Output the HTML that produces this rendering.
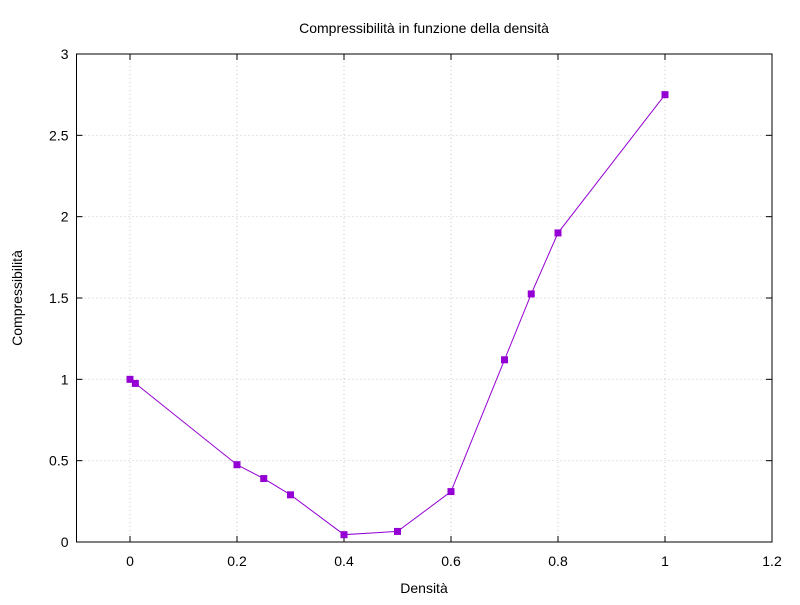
<!DOCTYPE html>
<html><head><meta charset="utf-8"><style>
body{margin:0;background:#fff;}
svg{font-family:"Liberation Sans",sans-serif;}
</style></head><body>
<svg id="chart" width="800" height="600">
<text x="424" y="33" font-size="14" text-anchor="middle">Compressibilità in funzione della densità</text>
<text x="424" y="593" font-size="14" text-anchor="middle">Densità</text>
<text transform="translate(22,298) rotate(-90)" font-size="14" text-anchor="middle">Compressibilità</text>
<g id="grid"></g><g id="axes"></g><g id="series"></g>
</svg>
<script>
const xVals=[0,0.01,0.2,0.25,0.3,0.4,0.5,0.6,0.7,0.75,0.8,1];
const yVals=[1.0,0.975,0.475,0.39,0.29,0.045,0.065,0.31,1.12,1.525,1.9,2.75];
const xTicks=[0,0.2,0.4,0.6,0.8,1,1.2];
const yTicks=[0,0.5,1,1.5,2,2.5,3];
const L=76.5,R=772,T=54,B=542;
const xMin=-0.1,xMax=1.2,yMin=0,yMax=3;
const sx=v=>L+(v-xMin)/(xMax-xMin)*(R-L);
const sy=v=>B-(v-yMin)/(yMax-yMin)*(B-T);
const NS="http://www.w3.org/2000/svg";
function mk(tag,attrs,parent){const e=document.createElementNS(NS,tag);for(const k in attrs)e.setAttribute(k,attrs[k]);parent.appendChild(e);return e;}
const grid=document.getElementById('grid'),axes=document.getElementById('axes'),ser=document.getElementById('series');
xTicks.forEach(t=>{const x=sx(t);
 let g=mk('line',{x1:x,x2:x,y1:T,y2:B,stroke:'#c8c8c8','stroke-dasharray':'1,3'},grid);
 
 
 mk('line',{x1:x,x2:x,y1:B,y2:B-6,stroke:'#000'},axes);
 mk('line',{x1:x,x2:x,y1:T,y2:T+6,stroke:'#000'},axes);
 let tx=mk('text',{x:x,y:B+24,'font-size':14,'text-anchor':'middle'},axes);tx.textContent=t;
 
 
});
yTicks.forEach(t=>{const y=sy(t);
 let g=mk('line',{x1:L,x2:R,y1:y,y2:y,stroke:'#c8c8c8','stroke-dasharray':'1,3'},grid);
 
 
 mk('line',{x1:L,x2:L+6,y1:y,y2:y,stroke:'#000'},axes);
 mk('line',{x1:R,x2:R-6,y1:y,y2:y,stroke:'#000'},axes);
 let tx=mk('text',{x:L-8,y:y+5,'font-size':14,'text-anchor':'end'},axes);tx.textContent=t;
 
 
});
let fr=mk('rect',{x:L,y:T,width:R-L,height:B-T,fill:'none',stroke:'#000'},axes);


let pl=mk('polyline',{points:xVals.map((x,i)=>sx(x)+','+sy(yVals[i])).join(' '),fill:'none',stroke:'#9400d3','stroke-width':1},ser);


xVals.forEach((x,i)=>{
 let p=mk('rect',{x:sx(x)-3.5,y:sy(yVals[i])-3.5,width:7,height:7,fill:'#9400d3'},ser);
 
 
});
</script>
</body></html>
